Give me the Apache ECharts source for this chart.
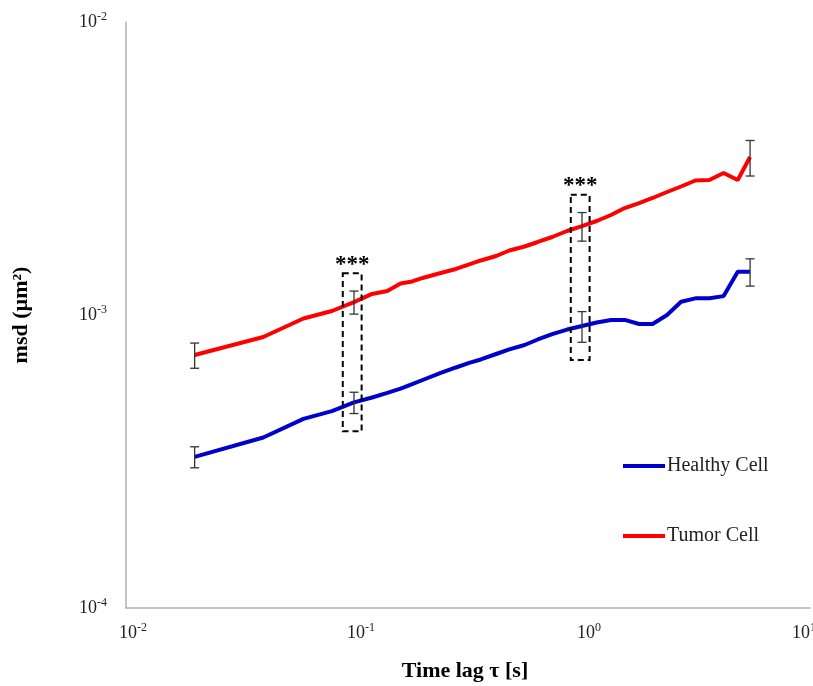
<!DOCTYPE html>
<html>
<head>
<meta charset="utf-8">
<title>MSD vs time lag</title>
<script src="https://cdn.jsdelivr.net/npm/echarts@6/dist/echarts.min.js"></script>
<style>
  html, body { margin: 0; padding: 0; background: #fff; }
  #chart { width: 813px; height: 686px; }
</style>
</head>
<body>
<div id="chart"></div>
<script>
// Time lag (s) for every sample of the mean squared displacement curves
const timeLag = [0.02, 0.04, 0.06, 0.08, 0.10, 0.12, 0.14, 0.16, 0.18, 0.20,
                 0.24, 0.28, 0.32, 0.36, 0.42, 0.48, 0.56, 0.64, 0.74, 0.86,
                 1.00, 1.16, 1.34, 1.54, 1.78, 2.04, 2.36, 2.72, 3.14, 3.62,
                 4.18, 4.82, 5.46];

// MSD (µm²) for healthy cells
const healthyMsd = [3.28e-4, 3.82e-4, 4.42e-4, 4.70e-4, 5.03e-4, 5.23e-4, 5.42e-4, 5.61e-4, 5.81e-4, 6.00e-4,
                    6.34e-4, 6.62e-4, 6.86e-4, 7.05e-4, 7.36e-4, 7.63e-4, 7.90e-4, 8.25e-4, 8.61e-4, 8.92e-4,
                    9.17e-4, 9.43e-4, 9.62e-4, 9.62e-4, 9.32e-4, 9.32e-4, 1.00e-3, 1.11e-3, 1.14e-3, 1.14e-3,
                    1.16e-3, 1.405e-3, 1.405e-3];

// MSD (µm²) for tumor cells
const tumorMsd = [7.30e-4, 8.41e-4, 9.73e-4, 1.032e-3, 1.107e-3, 1.180e-3, 1.208e-3, 1.281e-3, 1.302e-3, 1.338e-3,
                  1.391e-3, 1.436e-3, 1.488e-3, 1.535e-3, 1.590e-3, 1.660e-3, 1.713e-3, 1.775e-3, 1.846e-3, 1.935e-3,
                  2.012e-3, 2.093e-3, 2.194e-3, 2.318e-3, 2.411e-3, 2.508e-3, 2.629e-3, 2.745e-3, 2.877e-3, 2.889e-3,
                  3.052e-3, 2.889e-3, 3.461e-3];

// Time lags carrying error bars, and the error size at each
const errorTimes = [0.02, 0.10, 1.00, 5.46];
const healthyErr = [2.7e-5, 4.2e-5, 1.1e-4, 1.5e-4];
const tumorErr   = [7.2e-5, 1.0e-4, 2.25e-4, 4.8e-4];

// Time lags where the two groups differ significantly
const significantTimes = [0.10, 1.00];
const significanceMark = '***';

const seriesNames = ['Healthy Cell', 'Tumor Cell'];
const xAxisTitle = 'Time lag τ [s]';
const yAxisTitle = 'msd (µm²)';

const FONT = '"Liberation Serif", "Times New Roman", serif';
const BLUE = '#0000cc';
const RED = '#ff0000';

function valueAt(times, values, t) {
  const i = times.findIndex(v => Math.abs(v - t) < 1e-9);
  return values[i];
}

const healthyPairs = timeLag.map((t, i) => [t, healthyMsd[i]]);
const tumorPairs = timeLag.map((t, i) => [t, tumorMsd[i]]);

const healthyBars = errorTimes.map((t, i) => [t, valueAt(timeLag, healthyMsd, t), healthyErr[i]]);
const tumorBars = errorTimes.map((t, i) => [t, valueAt(timeLag, tumorMsd, t), tumorErr[i]]);

// Dashed box spans from below the healthy error bar to above the tumor error bar
const boxData = significantTimes.map(t => {
  const k = errorTimes.findIndex(v => Math.abs(v - t) < 1e-9);
  const low = valueAt(timeLag, healthyMsd, t) - healthyErr[k];
  const high = valueAt(timeLag, tumorMsd, t) + tumorErr[k];
  return [t, low, high];
});

// Powers of ten written as 10 with a raised exponent
function powerLabel(v) {
  const p = Math.round(Math.log10(v));
  return '{b|10}{s|' + p + '}';
}
// The last x label runs off the right edge; a blank tail pulls its base a little left
function xPowerLabel(v) {
  const p = Math.round(Math.log10(v));
  if (p >= 1) return '{b|10}{s|' + p + '}{gap| }';
  return '{b|10}{s|' + p + '}';
}

const baseText = { fontFamily: FONT, fontSize: 18, color: '#222', lineHeight: 22, verticalAlign: 'middle' };
const labelRich = {
  b: baseText,
  gap: { fontFamily: FONT, fontSize: 12, width: 26, lineHeight: 12 },
  s: { fontFamily: FONT, fontSize: 12, color: '#222', lineHeight: 12, verticalAlign: 'top' }
};

function renderErrorBar(params, api) {
  const t = api.value(0), v = api.value(1), e = api.value(2);
  const top = api.coord([t, v + e]);
  const bot = api.coord([t, v - e]);
  const cap = 4.5;
  const style = { stroke: '#333', lineWidth: 1.3 };
  return {
    type: 'group',
    children: [
      { type: 'line', shape: { x1: top[0], y1: top[1], x2: bot[0], y2: bot[1] }, style },
      { type: 'line', shape: { x1: top[0] - cap, y1: top[1], x2: top[0] + cap, y2: top[1] }, style },
      { type: 'line', shape: { x1: bot[0] - cap, y1: bot[1], x2: bot[0] + cap, y2: bot[1] }, style }
    ]
  };
}

function renderBox(params, api) {
  const t = api.value(0), low = api.value(1), high = api.value(2);
  const p1 = api.coord([t / 1.12, high * 1.15]);
  const p2 = api.coord([t * 1.08, low / 1.15]);
  return {
    type: 'group',
    children: [
      {
        type: 'rect',
        shape: { x: p1[0], y: p1[1], width: p2[0] - p1[0], height: p2[1] - p1[1] },
        style: { fill: 'none', stroke: '#000', lineWidth: 2, lineDash: [6, 4] }
      },
      {
        type: 'text',
        style: {
          text: significanceMark, x: (p1[0] + p2[0]) / 2, y: p1[1] + 3,
          textAlign: 'center', textVerticalAlign: 'bottom',
          font: 'bold 23px ' + FONT, fill: '#000'
        }
      }
    ]
  };
}

const chart = echarts.init(document.getElementById('chart'), null, { renderer: 'canvas' });

chart.setOption({
  backgroundColor: '#fff',
  animation: false,
  grid: { left: 126, right: 3, top: 22, bottom: 78, containLabel: false, outerBoundsMode: 'none' },
  legend: {
    data: seriesNames,
    orient: 'vertical',
    left: 623,
    top: 455,
    padding: 0,
    itemWidth: 42,
    itemHeight: 4,
    itemGap: 48,
    icon: 'rect',
    textStyle: { fontFamily: FONT, fontSize: 20, color: '#222', lineHeight: 22, padding: [0, 0, 0, -3] }
  },
  xAxis: {
    type: 'log',
    logBase: 10,
    min: 0.01,
    max: 10,
    name: xAxisTitle,
    nameLocation: 'middle',
    nameGap: 52,
    nameTextStyle: {
      fontFamily: FONT, fontSize: 22, fontWeight: 'bold', color: '#000',
      padding: [0, 6, 0, 0]
    },
    axisLine: { show: true, lineStyle: { color: '#b0b0b0', width: 1.5 } },
    axisTick: { show: false },
    minorTick: { show: false },
    splitLine: { show: false },
    axisLabel: {
      margin: 14, formatter: xPowerLabel, rich: labelRich, padding: [0, 0, 0, 14],
      showMaxLabel: true
    }
  },
  yAxis: {
    type: 'log',
    logBase: 10,
    min: 1e-4,
    max: 1e-2,
    name: yAxisTitle,
    nameLocation: 'middle',
    nameGap: 94,
    nameTextStyle: { fontFamily: FONT, fontSize: 22, fontWeight: 'bold', color: '#000' },
    axisLine: { show: true, lineStyle: { color: '#b0b0b0', width: 1.5 } },
    axisTick: { show: false },
    minorTick: { show: false },
    splitLine: { show: false },
    axisLabel: { margin: 19, formatter: powerLabel, rich: labelRich }
  },
  series: [
    {
      name: seriesNames[0], type: 'line', data: healthyPairs, symbol: 'none',
      lineStyle: { color: BLUE, width: 4 }, itemStyle: { color: BLUE }, z: 2
    },
    {
      name: seriesNames[1], type: 'line', data: tumorPairs, symbol: 'none',
      lineStyle: { color: RED, width: 4 }, itemStyle: { color: RED }, z: 2
    },
    {
      name: 'healthy-error', type: 'custom', data: healthyBars, renderItem: renderErrorBar,
      z: 5, clip: false, silent: true, encode: { x: 0, y: 1 }
    },
    {
      name: 'tumor-error', type: 'custom', data: tumorBars, renderItem: renderErrorBar,
      z: 5, clip: false, silent: true, encode: { x: 0, y: 1 }
    },
    {
      name: 'significance', type: 'custom', data: boxData, renderItem: renderBox,
      z: 6, clip: false, silent: true, encode: { x: 0, y: [1, 2] }
    }
  ]
});
</script>
</body>
</html>
